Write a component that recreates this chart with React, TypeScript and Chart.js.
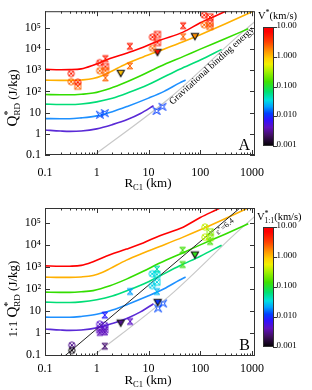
import React, { useEffect, useRef } from "react";
import { Chart, registerables } from "chart.js";
Chart.register(...registerables);

const FONT = '"Liberation Serif", "Times New Roman", Times, serif';

// ---------- axis ticks ----------
const X_TICKS = [0.1, 1, 10, 100, 1000];
const X_TICK_LABELS = ["0.1", "1", "10", "100", "1000"];
const Y_TICKS = [0.1, 1, 10, 100, 1000, 10000, 100000];
const Y_TICK_LABELS = ["0.1", "1", "10", "10²", "10³", "10⁴", "10⁵"];
const CB_TICKS = [10, 1, 0.1, 0.01, 0.001];
const CB_TICK_LABELS = ["10.00", "1.000", "0.100", "0.010", "0.001"];

// ---------- model curves (R in km, Q in J/kg) ----------
const R_RED = [0.1, 0.2, 0.3, 0.5, 0.85, 1.8, 3.75, 7.9, 16.5, 46.6, 100, 200, 400];
const Q_RED = [1100, 1050, 1060, 1150, 1700, 3500, 6300, 12000, 25600, 62000, 170000, 370000, 800000];
const R_ORANGE = [0.1, 0.2, 0.3, 0.5, 0.85, 1.3, 1.8, 3.75, 7.9, 16.5, 46.6, 100, 300, 1050];
const Q_ORANGE = [340, 330, 330, 345, 400, 560, 820, 2000, 4200, 8300, 22000, 47000, 150000, 590000];
const R_GREEN = [0.1, 0.2, 0.3, 0.5, 0.85, 1.8, 3.75, 7.9, 16.5, 50, 100, 300, 845];
const Q_GREEN = [71, 69, 69, 73, 83, 137, 275, 620, 1480, 4700, 9800, 30000, 89000];
const R_TEAL = [0.1, 0.2, 0.3, 0.5, 1, 2, 4, 10, 16.5, 40, 100, 258];
const Q_TEAL = [25, 24, 24, 25.5, 32, 47, 85, 210, 380, 1100, 3000, 9500];
const R_BLUE = [0.1, 0.2, 0.3, 0.5, 1, 2, 4, 10, 20, 40, 52];
const Q_BLUE = [5.2, 5.1, 5.1, 5.6, 7, 11, 20, 48, 100, 250, 340];
const R_PURPLE = [0.1, 0.2, 0.3, 0.5, 1, 2, 4, 7, 12.5];
const Q_PURPLE = [1.5, 1.35, 1.3, 1.35, 1.7, 2.7, 4.8, 9, 21];

// gravitational binding energy
const R_GRAV = [0.78, 26.7, 500, 1140];
const Q_GRAV = [0.078, 53, 35000, 195000];
// epsilon* = 6.4 line (panel B)
const R_EPS = [0.24, 583];
const Q_EPS = [0.09, 460000];

// ---------- measurements, panel A ----------
const A_CX_R = [0.32, 0.32, 0.43, 1.14, 1.14, 11.9, 11.9, 119, 119];
const A_CX_Q = [690, 285, 270, 2240, 940, 36000, 10700, 390000, 137000];
const A_CX_V = [5, 2.3, 5, 5, 2.3, 5, 2.3, 5, 2.3];
const A_SX_R = [0.43, 1.47, 1.47, 14.9, 14.9, 153, 153, 153];
const A_SX_Q = [175, 1480, 940, 48000, 20000, 320000, 160000, 115000];
const A_SX_V = [2.3, 5, 2.3, 5, 5, 5, 5, 2.3];
const A_HG_R = [1.47, 1.47, 4.35, 4.35, 46.6, 46.6];
const A_HG_Q = [3500, 430, 13200, 1580, 124000, 38000];
const A_HG_V = [5, 2.3, 5, 2.3, 5, 2.3];
const A_TR_R = [2.9, 14.9, 78.7];
const A_TR_Q = [730, 7100, 40000];
const A_TR_V = [1.0, 6, 1.6];
const A_ST_R = [1.15, 1.43, 14.3, 18.6];
const A_ST_Q = [7.9, 9.4, 12, 18.7];
const A_ST_V = [0.013, 0.013, 0.012, 0.012];

// ---------- measurements, panel B ----------
const B_CX_R = [0.33, 0.33, 1.14, 1.43, 11.8, 11.8, 123, 123];
const B_CX_Q = [0.28, 0.16, 2.5, 2.2, 480, 140, 63000, 22000];
const B_CX_V = [0.003, 0.0011, 0.0048, 0.0048, 0.033, 0.03, 0.4, 0.38];
const B_SX_R = [1.14, 1.43, 14.5, 14.5, 155, 155];
const B_SX_Q = [1.4, 1.4, 450, 200, 38000, 21000];
const B_SX_V = [0.0042, 0.0042, 0.036, 0.033, 0.25, 0.25];
const B_HG_R = [1.14, 1.43, 1.43, 1.43, 4.4, 4.4, 14.5, 14.5, 45.5, 45.5, 155];
const B_HG_Q = [1.05, 1.1, 6.4, 0.25, 3.3, 75, 780, 75, 5600, 1260, 14000];
const B_HG_V = [0.004, 0.004, 0.0083, 0.0025, 0.0045, 0.021, 0.048, 0.025, 0.14, 0.13, 0.15];
const B_TR_R = [2.9, 15, 78.7];
const B_TR_Q = [2.9, 25, 3560];
const B_TR_V = [0.003, 0.011, 0.12];
const B_ST_R = [15.3, 19.1];
const B_ST_Q = [12.9, 21.6];
const B_ST_V = [0.013, 0.013];

// ---------- colour map (fraction from 0.001 to 10 km/s) ----------
const CMAP_POS = [0, 0.087, 0.156, 0.218, 0.274, 0.33, 0.385, 0.455, 0.54, 0.623, 0.687, 0.735, 0.8, 0.874, 0.96, 1];
const CMAP_COL = ["#000000", "#401060", "#6010c0", "#3010ff", "#0040ff", "#00a0ff", "#00e0e0", "#00e070", "#40e000", "#a0f000", "#f0f000", "#ffd000", "#ff9000", "#ff4000", "#ff0000", "#ff0000"];

function hexToRgb(h: string) {
  return [parseInt(h.slice(1, 3), 16), parseInt(h.slice(3, 5), 16), parseInt(h.slice(5, 7), 16)];
}
function colorFor(v: number) {
  const f = Math.max(0, Math.min(1, (Math.log10(v) + 3) / 4));
  for (let i = 0; i < CMAP_POS.length - 1; i++) {
    if (f <= CMAP_POS[i + 1]) {
      const t = (f - CMAP_POS[i]) / (CMAP_POS[i + 1] - CMAP_POS[i]);
      const a = hexToRgb(CMAP_COL[i]);
      const b = hexToRgb(CMAP_COL[i + 1]);
      const c = a.map((x, k) => Math.round(x + (b[k] - x) * t));
      return `rgb(${c[0]},${c[1]},${c[2]})`;
    }
  }
  return CMAP_COL[CMAP_COL.length - 1];
}

const spriteCache: Record<string, HTMLCanvasElement> = {};
function sprite(kind: string, color: string) {
  const key = kind + color;
  if (spriteCache[key]) return spriteCache[key];
  const S = 12;
  const c = document.createElement("canvas");
  c.width = S;
  c.height = S;
  const g = c.getContext("2d")!;
  const m = S / 2;
  g.strokeStyle = color;
  g.fillStyle = color;
  g.lineWidth = 1;
  if (kind === "cx") {
    g.beginPath();
    g.arc(m, m, 3.2, 0, Math.PI * 2);
    g.stroke();
    const d = 2.2;
    g.beginPath();
    g.moveTo(m - d, m - d); g.lineTo(m + d, m + d);
    g.moveTo(m + d, m - d); g.lineTo(m - d, m + d);
    g.stroke();
  } else if (kind === "sx") {
    const h = 3;
    g.strokeRect(m - h, m - h, 2 * h, 2 * h);
    g.beginPath();
    g.moveTo(m - h, m - h); g.lineTo(m + h, m + h);
    g.moveTo(m + h, m - h); g.lineTo(m - h, m + h);
    g.stroke();
  } else if (kind === "hg") {
    const h = 2.9;
    g.beginPath();
    g.moveTo(m - h, m - h); g.lineTo(m + h, m - h); g.lineTo(m - h, m + h); g.lineTo(m + h, m + h); g.closePath();
    g.globalAlpha = 0.5; g.fill(); g.globalAlpha = 1;
    g.stroke();
  } else if (kind === "tr") {
    g.beginPath();
    g.moveTo(m - 3.6, m - 2.8); g.lineTo(m + 3.6, m - 2.8); g.lineTo(m, m + 3.6); g.closePath();
    g.fill();
    g.strokeStyle = "#111"; g.lineWidth = 1.1; g.stroke();
  } else if (kind === "st") {
    const o = 3.6, i = 1.3;
    g.beginPath();
    g.moveTo(m - o, m - o); g.lineTo(m, m - i); g.lineTo(m + o, m - o); g.lineTo(m + i, m);
    g.lineTo(m + o, m + o); g.lineTo(m, m + i); g.lineTo(m - o, m + o); g.lineTo(m - i, m); g.closePath();
    g.stroke();
  }
  spriteCache[key] = c;
  return c;
}

const CURVE_COLORS = ["#ff0000", "#ffb000", "#33dd00", "#00dd77", "#1e90ff", "#5a2ad6"];

function curve(R: number[], Q: number[], color: string, width = 1.6) {
  return {
    type: "line",
    data: R.map((r, i) => ({ x: r, y: Q[i] })),
    borderColor: color,
    borderWidth: width,
    pointRadius: 0,
    cubicInterpolationMode: "monotone",
    fill: false,
    order: 2,
  };
}
function markers(kind: string, R: number[], Q: number[], V: number[]) {
  return {
    type: "scatter",
    data: R.map((r, i) => ({ x: r, y: Q[i] })),
    pointStyle: V.map((v) => sprite(kind, colorFor(v))),
    pointRadius: 4,
    order: 0,
  };
}

type Part = { t: string; s: number; dy?: number; stay?: boolean };
function partsWidth(ctx: CanvasRenderingContext2D, parts: Part[]) {
  let w = 0;
  for (const p of parts) {
    ctx.font = `${p.s}px ${FONT}`;
    if (!p.stay) w += ctx.measureText(p.t).width;
  }
  return w;
}
function drawParts(ctx: CanvasRenderingContext2D, parts: Part[], x: number, y: number) {
  let cx = x;
  for (const p of parts) {
    ctx.font = `${p.s}px ${FONT}`;
    ctx.fillText(p.t, cx, y + (p.dy || 0));
    if (!p.stay) cx += ctx.measureText(p.t).width;
  }
}

const PANELS: any = {
  A: {
    yMin: 0.1, yMax: 600000, padTop: 6, xHeight: 40, xPad: 11,
    cbTop: 27, cbBot: 146,
    cbTitle: [{ t: "V", s: 10.5 }, { t: "*", s: 8, dy: -4 }, { t: "(km/s)", s: 10.5 }],
    cbTitleY: 19, cbTitleX: 258,
    yTitle: [{ t: "Q", s: 15 }, { t: "*", s: 10, dy: -6, stay: true }, { t: "RD", s: 9, dy: 3 }, { t: " (J/kg)", s: 13 }],
    yTitleC: 98, xTitleBase: 187, letter: "A", letterBase: 149.5,
  },
  B: {
    yMin: 0.09, yMax: 460000, padTop: 13, xHeight: 34, xPad: 5.4,
    cbTop: 32, cbBot: 152,
    cbTitle: [{ t: "V", s: 10.5 }, { t: "*", s: 8, dy: -4, stay: true }, { t: "1:1", s: 7.5, dy: 2.5 }, { t: "(km/s)", s: 10.5 }],
    cbTitleY: 25, cbTitleX: 257,
    yTitle: [{ t: "1:1 ", s: 13 }, { t: "Q", s: 15 }, { t: "*", s: 10, dy: -6, stay: true }, { t: "RD", s: 9, dy: 3 }, { t: " (J/kg)", s: 13 }],
    yTitleC: 104, xTitleBase: 189, letter: "B", letterBase: 155,
  },
};

function decorPlugin(key: "A" | "B") {
  const P = PANELS[key];
  return {
    id: "decor" + key,
    afterDatasetsDraw(chart: any) {
      const { ctx, chartArea: a, scales } = chart;
      const xs = scales.x, ys = scales.y;
      ctx.save();
      // frame
      ctx.strokeStyle = "#333";
      ctx.lineWidth = 1;
      ctx.strokeRect(a.left + 0.5, a.top + 0.5, a.right - a.left - 1, a.bottom - a.top - 1);
      ctx.beginPath();
      for (let d = -1; d <= 3; d++) {
        for (let k = 1; k <= 9; k++) {
          const v = k * Math.pow(10, d);
          if (v < xs.min || v > xs.max) continue;
          const px = Math.round(xs.getPixelForValue(v)) + 0.5;
          const len = k === 1 ? 5 : 2.5;
          ctx.moveTo(px, a.bottom); ctx.lineTo(px, a.bottom - len);
          ctx.moveTo(px, a.top); ctx.lineTo(px, a.top + len);
        }
      }
      for (let d = -1; d <= 5; d++) {
        const v = Math.pow(10, d);
        if (v < ys.min || v > ys.max) continue;
        const py = Math.round(ys.getPixelForValue(v)) + 0.5;
        ctx.moveTo(a.left, py); ctx.lineTo(a.left + 5, py);
        ctx.moveTo(a.right, py); ctx.lineTo(a.right - 5, py);
      }
      ctx.stroke();

      ctx.fillStyle = "#000";
      if (key === "A") {
        // gravitational binding energy label
        const p1 = { x: xs.getPixelForValue(R_GRAV[1]), y: ys.getPixelForValue(Q_GRAV[1]) };
        const p2 = { x: xs.getPixelForValue(R_GRAV[2]), y: ys.getPixelForValue(Q_GRAV[2]) };
        const ang = Math.atan2(p2.y - p1.y, p2.x - p1.x);
        const t = 0.58;
        const cx = p1.x + (p2.x - p1.x) * t, cy = p1.y + (p2.y - p1.y) * t;
        const off = 4.5;
        ctx.save();
        ctx.translate(cx - Math.sin(ang) * off, cy + Math.cos(ang) * off);
        ctx.rotate(ang);
        ctx.font = `9.6px ${FONT}`;
        ctx.textAlign = "center";
        ctx.textBaseline = "middle";
        ctx.fillText("Gravitational binding energy", 0, 0);
        ctx.restore();
      } else {
        const p1 = { x: xs.getPixelForValue(R_EPS[0]), y: ys.getPixelForValue(Q_EPS[0]) };
        const p2 = { x: xs.getPixelForValue(R_EPS[1]), y: ys.getPixelForValue(Q_EPS[1]) };
        const ang = Math.atan2(p2.y - p1.y, p2.x - p1.x);
        const cx = 222;
        const cy = p1.y + (p2.y - p1.y) * ((cx - p1.x) / (p2.x - p1.x));
        const off = 4.5;
        ctx.save();
        ctx.translate(cx - Math.sin(ang) * off, cy + Math.cos(ang) * off);
        ctx.rotate(ang);
        ctx.textAlign = "left";
        ctx.textBaseline = "middle";
        const parts: Part[] = [{ t: "ε", s: 8 }, { t: "*", s: 6, dy: -2 }, { t: "=6.4", s: 8 }];
        const w = partsWidth(ctx, parts);
        drawParts(ctx, parts, -w / 2, 0);
        ctx.restore();
      }

      // panel letter
      ctx.font = `16px ${FONT}`;
      ctx.textAlign = "right";
      ctx.textBaseline = "alphabetic";
      ctx.fillText(P.letter, a.right - 5, P.letterBase);

      // y-axis title
      ctx.save();
      ctx.textAlign = "left";
      ctx.textBaseline = "alphabetic";
      const yw = partsWidth(ctx, P.yTitle);
      ctx.translate(16.5, P.yTitleC);
      ctx.rotate(-Math.PI / 2);
      drawParts(ctx, P.yTitle, -yw / 2, 0);
      ctx.restore();

      // x-axis title
      const xParts: Part[] = [{ t: "R", s: 13 }, { t: "C1", s: 8.5, dy: 3 }, { t: " (km)", s: 13 }];
      ctx.textAlign = "left";
      const xw = partsWidth(ctx, xParts);
      drawParts(ctx, xParts, (a.left + a.right) / 2 - xw / 2 - 2, P.xTitleBase);

      // colour bar
      const x0 = 263, x1 = 274;
      const grad = ctx.createLinearGradient(0, P.cbBot, 0, P.cbTop);
      CMAP_POS.forEach((p: number, i: number) => grad.addColorStop(p, CMAP_COL[i]));
      ctx.fillStyle = grad;
      ctx.fillRect(x0, P.cbTop, x1 - x0, P.cbBot - P.cbTop);
      ctx.strokeStyle = "#333";
      ctx.strokeRect(x0 + 0.5, P.cbTop + 0.5, x1 - x0 - 1, P.cbBot - P.cbTop - 1);
      ctx.fillStyle = "#000";
      ctx.font = `9px ${FONT}`;
      ctx.beginPath();
      CB_TICKS.forEach((v, i) => {
        const f = (Math.log10(v) + 3) / 4;
        const y = Math.round(P.cbBot - f * (P.cbBot - P.cbTop)) + 0.5;
        ctx.moveTo(x1 - 1, y); ctx.lineTo(x1 + 3, y);
        ctx.fillText(CB_TICK_LABELS[i], x1 + 2.5, y + 0.5);
      });
      ctx.stroke();
      drawParts(ctx, P.cbTitle, P.cbTitleX, P.cbTitleY);
      ctx.restore();
    },
  };
}

function datasetsFor(key: "A" | "B") {
  const ds: any[] = [
    curve(R_RED, Q_RED, CURVE_COLORS[0]),
    curve(R_ORANGE, Q_ORANGE, CURVE_COLORS[1]),
    curve(R_GREEN, Q_GREEN, CURVE_COLORS[2]),
    curve(R_TEAL, Q_TEAL, CURVE_COLORS[3]),
    curve(R_BLUE, Q_BLUE, CURVE_COLORS[4]),
    curve(R_PURPLE, Q_PURPLE, CURVE_COLORS[5]),
    { ...curve(R_GRAV, Q_GRAV, "#c8c8c8", 1.2), order: 3 },
  ];
  if (key === "A") {
    ds.push(markers("cx", A_CX_R, A_CX_Q, A_CX_V));
    ds.push(markers("sx", A_SX_R, A_SX_Q, A_SX_V));
    ds.push(markers("hg", A_HG_R, A_HG_Q, A_HG_V));
    ds.push(markers("tr", A_TR_R, A_TR_Q, A_TR_V));
    ds.push(markers("st", A_ST_R, A_ST_Q, A_ST_V));
  } else {
    ds.push({ ...curve(R_EPS, Q_EPS, "#222", 1), cubicInterpolationMode: "default", tension: 0, order: 1 });
    ds.push(markers("cx", B_CX_R, B_CX_Q, B_CX_V));
    ds.push(markers("sx", B_SX_R, B_SX_Q, B_SX_V));
    ds.push(markers("hg", B_HG_R, B_HG_Q, B_HG_V));
    ds.push(markers("tr", B_TR_R, B_TR_Q, B_TR_V));
    ds.push(markers("st", B_ST_R, B_ST_Q, B_ST_V));
  }
  return ds;
}

function PanelChart({ which }: { which: "A" | "B" }) {
  const ref = useRef<HTMLCanvasElement>(null);
  useEffect(() => {
    const P = PANELS[which];
    const chart = new Chart(ref.current as HTMLCanvasElement, {
      type: "scatter",
      data: { datasets: datasetsFor(which) } as any,
      options: {
        responsive: false,
        animation: false,
        devicePixelRatio: 1,
        layout: { padding: { left: 0, right: 57, top: P.padTop, bottom: 0 } },
        plugins: { legend: { display: false }, tooltip: { enabled: false } },
        scales: {
          x: {
            type: "logarithmic",
            min: 0.1,
            max: 1140,
            grid: { display: false, drawTicks: false },
            border: { display: false },
            ticks: {
              autoSkip: false,
              maxRotation: 0,
              padding: P.xPad,
              color: "#000",
              font: { family: FONT, size: 12 },
              callback: (_v: any, i: number) => X_TICK_LABELS[i],
            },
            afterBuildTicks: (s: any) => { s.ticks = X_TICKS.map((v) => ({ value: v })); },
            afterFit: (s: any) => { s.height = P.xHeight; },
          },
          y: {
            type: "logarithmic",
            min: P.yMin,
            max: P.yMax,
            grid: { display: false, drawTicks: false },
            border: { display: false },
            ticks: {
              autoSkip: false,
              padding: 4,
              color: "#000",
              font: { family: FONT, size: 12 },
              callback: (_v: any, i: number) => Y_TICK_LABELS[i],
            },
            afterBuildTicks: (s: any) => { s.ticks = Y_TICKS.map((v) => ({ value: v })); },
            afterFit: (s: any) => { s.width = 45; },
          },
        },
      } as any,
      plugins: [decorPlugin(which)],
    });
    return () => chart.destroy();
  }, [which]);
  return (
    <canvas
      ref={ref}
      width={312}
      height={195}
      style={{ position: "absolute", left: 0, top: which === "A" ? 0 : 195, width: 312, height: 195 }}
    />
  );
}

export default function App() {
  return (
    <div style={{ position: "absolute", left: 0, top: 0, width: 312, height: 390, background: "#fff" }}>
      <PanelChart which="A" />
      <PanelChart which="B" />
    </div>
  );
}
